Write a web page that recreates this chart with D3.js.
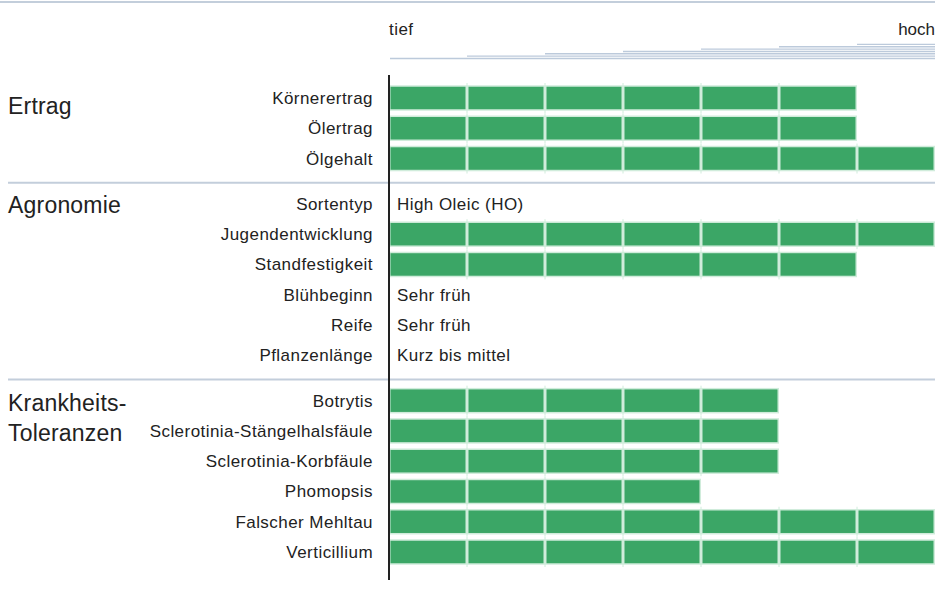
<!DOCTYPE html>
<meta charset="utf-8">
<html>
<head>
  <style>
    body { margin: 0; background: #fff; }
    svg { display: block; font-family: "Liberation Sans", Arial, sans-serif; }
    .row-label { font-size: 17px; fill: #222; letter-spacing: 0.45px; }
    .sec-label { font-size: 23px; fill: #222; letter-spacing: 0.2px; }
  </style>
</head>
<body>
<svg></svg>
<script src="https://d3js.org/d3.v7.min.js"></script>
<script>
  const sections = ["Ertrag", "Agronomie", "Krankheits-|Toleranzen"];
  const traits = ["Körnerertrag", "Ölertrag", "Ölgehalt",
    "Sortentyp", "Jugendentwicklung", "Standfestigkeit", "Blühbeginn", "Reife", "Pflanzenlänge",
    "Botrytis", "Sclerotinia-Stängelhalsfäule", "Sclerotinia-Korbfäule", "Phomopsis", "Falscher Mehltau", "Verticillium"];
  const traitSection = [0, 0, 0, 1, 1, 1, 1, 1, 1, 2, 2, 2, 2, 2, 2];
  const scores = [6, 6, 7, null, 7, 6, null, null, null, 5, 5, 5, 4, 7, 7];
  const texts = [null, null, null, "High Oleic (HO)", null, null, "Sehr früh", "Sehr früh", "Kurz bis mittel",
    null, null, null, null, null, null];
  const scaleLabels = ["tief", "hoch"];
  const maxScore = 7;

  const width = 945, height = 593;
  const svg = d3.select("svg").attr("width", width).attr("height", height);

  const x = d3.scaleLinear().domain([0, maxScore]).range([389, 935]);
  // slot index: rows plus half a row gap between sections
  const slots = traits.map((t, i) => i + traitSection[i] * 0.5);
  const y = d3.scaleLinear().domain([0, 15]).range([98, 552]);

  const green = "#3ba666", light = "#d0ecdb", sepColor = "#c3cedb";

  // top rule
  svg.append("line").attr("x1", 0).attr("x2", x(maxScore)).attr("y1", 2).attr("y2", 2)
    .attr("stroke", sepColor).attr("stroke-width", 2);

  // scale header
  svg.append("text").attr("class", "row-label").attr("x", x(0)).attr("y", 35).text(scaleLabels[0]);
  svg.append("text").attr("class", "row-label").attr("x", x(maxScore)).attr("y", 35)
    .attr("text-anchor", "end").style("letter-spacing", "0px").text(scaleLabels[1]);

  svg.append("g").selectAll("line")
    .data(d3.range(maxScore))
    .join("line")
    .attr("x1", d => x(d) + (d === 0 ? 1 : 0))
    .attr("x2", x(maxScore))
    .attr("y1", d => 58.5 - d * 2.35)
    .attr("y2", d => 58.5 - d * 2.35)
    .attr("stroke", "#bccadb")
    .attr("stroke-width", 1.4);

  // section separators
  const firstIdx = sections.map((s, k) => traitSection.indexOf(k));
  firstIdx.slice(1).forEach(i => {
    const yy = (y(slots[i - 1]) + y(slots[i])) / 2 + 1.5;
    svg.append("line").attr("x1", 8).attr("x2", x(maxScore)).attr("y1", yy).attr("y2", yy)
      .attr("stroke", sepColor).attr("stroke-width", 2);
  });

  // section labels
  const secOffset = [16, 9, 10];
  sections.forEach((s, k) => {
    const t = svg.append("text").attr("class", "sec-label")
      .attr("x", 8).attr("y", y(slots[firstIdx[k]]) + secOffset[k]);
    s.split("|").forEach((line, j) => {
      t.append("tspan").attr("x", 8).attr("dy", j ? 30.5 : 0).text(line);
    });
  });

  // row labels
  svg.append("g").selectAll("text")
    .data(traits)
    .join("text")
    .attr("class", "row-label")
    .attr("x", 373)
    .attr("y", (d, i) => y(slots[i]) + 6)
    .attr("text-anchor", "end")
    .text(d => d);

  // bars built from segments
  const rows = traits.map((t, i) => ({ i, score: scores[i], text: texts[i] }));
  const barG = svg.append("g");
  rows.filter(r => r.score).forEach(r => {
    const cy = y(slots[r.i]);
    barG.selectAll(null)
      .data(d3.range(r.score))
      .join("line")
      .attr("x1", d => x(d)).attr("x2", d => x(d))
      .attr("y1", cy - 15).attr("y2", cy + 15)
      .attr("stroke", light).attr("stroke-width", 1);
    barG.selectAll(null)
      .data(d3.range(r.score))
      .join("rect")
      .attr("x", d => x(d) + 0.75)
      .attr("width", d => x(d + 1) - x(d) - 1.5)
      .attr("y", cy - 12)
      .attr("height", 24)
      .attr("fill", green)
      .attr("stroke", light)
      .attr("stroke-width", 1.5);
  });

  // text values
  svg.append("g").selectAll("text")
    .data(rows.filter(r => r.text))
    .join("text")
    .attr("class", "row-label")
    .attr("x", 397)
    .attr("y", r => y(slots[r.i]) + 6)
    .text(r => r.text);

  // axis line
  svg.append("line").attr("x1", x(0)).attr("x2", x(0)).attr("y1", 75).attr("y2", 580)
    .attr("stroke", "#222").attr("stroke-width", 2);
</script>
</body>
</html>
